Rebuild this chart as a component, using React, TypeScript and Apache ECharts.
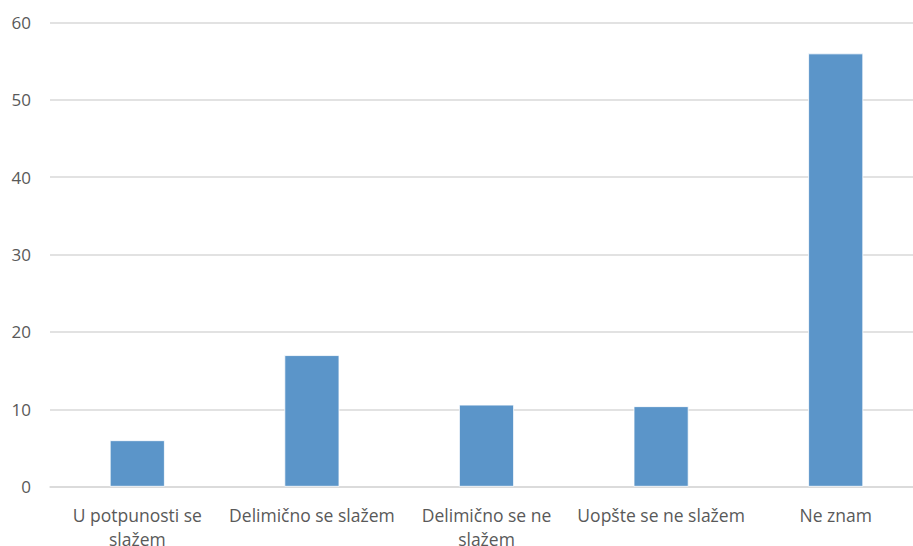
import React, { useEffect, useRef } from "react";
import * as echarts from "echarts";

const categories = [
  "U potpunosti se slažem",
  "Delimično se slažem",
  "Delimično se ne slažem",
  "Uopšte se ne slažem",
  "Ne znam",
];
const values = [6, 17, 10.6, 10.4, 56];
const yMin = 0;
const yMax = 60;
const yInterval = 10;

function wrapLabel(v: string): string {
  if (v.length <= 20) return v;
  const i = v.lastIndexOf(" ");
  return v.slice(0, i) + "\n" + v.slice(i + 1);
}

export default function App() {
  const ref = useRef<HTMLDivElement>(null);
  useEffect(() => {
    document.body.style.margin = "0";
    document.body.style.overflow = "hidden";
    const chart = echarts.init(ref.current!, null, { renderer: "svg" });
    chart.setOption({
      animation: false,
      backgroundColor: "#ffffff",
      grid: {
        left: 50,
        right: -10,
        top: 22.5,
        bottom: 59.3,
        containLabel: false,
        outerBoundsMode: "none",
      },
      xAxis: {
        type: "category",
        data: categories,
        axisLine: { show: true, lineStyle: { color: "#d9d9d9", width: 1.5 } },
        axisTick: { show: false },
        axisLabel: {
          interval: 0,
          color: "#595959",
          fontFamily: "Open Sans",
          fontSize: 17.5,
          lineHeight: 24,
          margin: 16,
          formatter: wrapLabel,
        },
      },
      yAxis: {
        type: "value",
        min: yMin,
        max: yMax,
        interval: yInterval,
        axisLine: { show: false },
        axisTick: { show: false },
        splitLine: { lineStyle: { color: "#d9d9d9", width: 1.5 } },
        axisLabel: {
          color: "#595959",
          fontFamily: "Open Sans",
          fontSize: 17,
          margin: 19,
        },
      },
      series: [
        {
          type: "bar",
          data: values,
          barWidth: "31.5%",
          itemStyle: { color: "#5b95c9", borderColor: "#ffffff", borderWidth: 0.8 },
        },
      ],
    });
    return () => chart.dispose();
  }, []);
  return <div ref={ref} style={{ width: 913, height: 546, overflow: "hidden" }} />;
}
